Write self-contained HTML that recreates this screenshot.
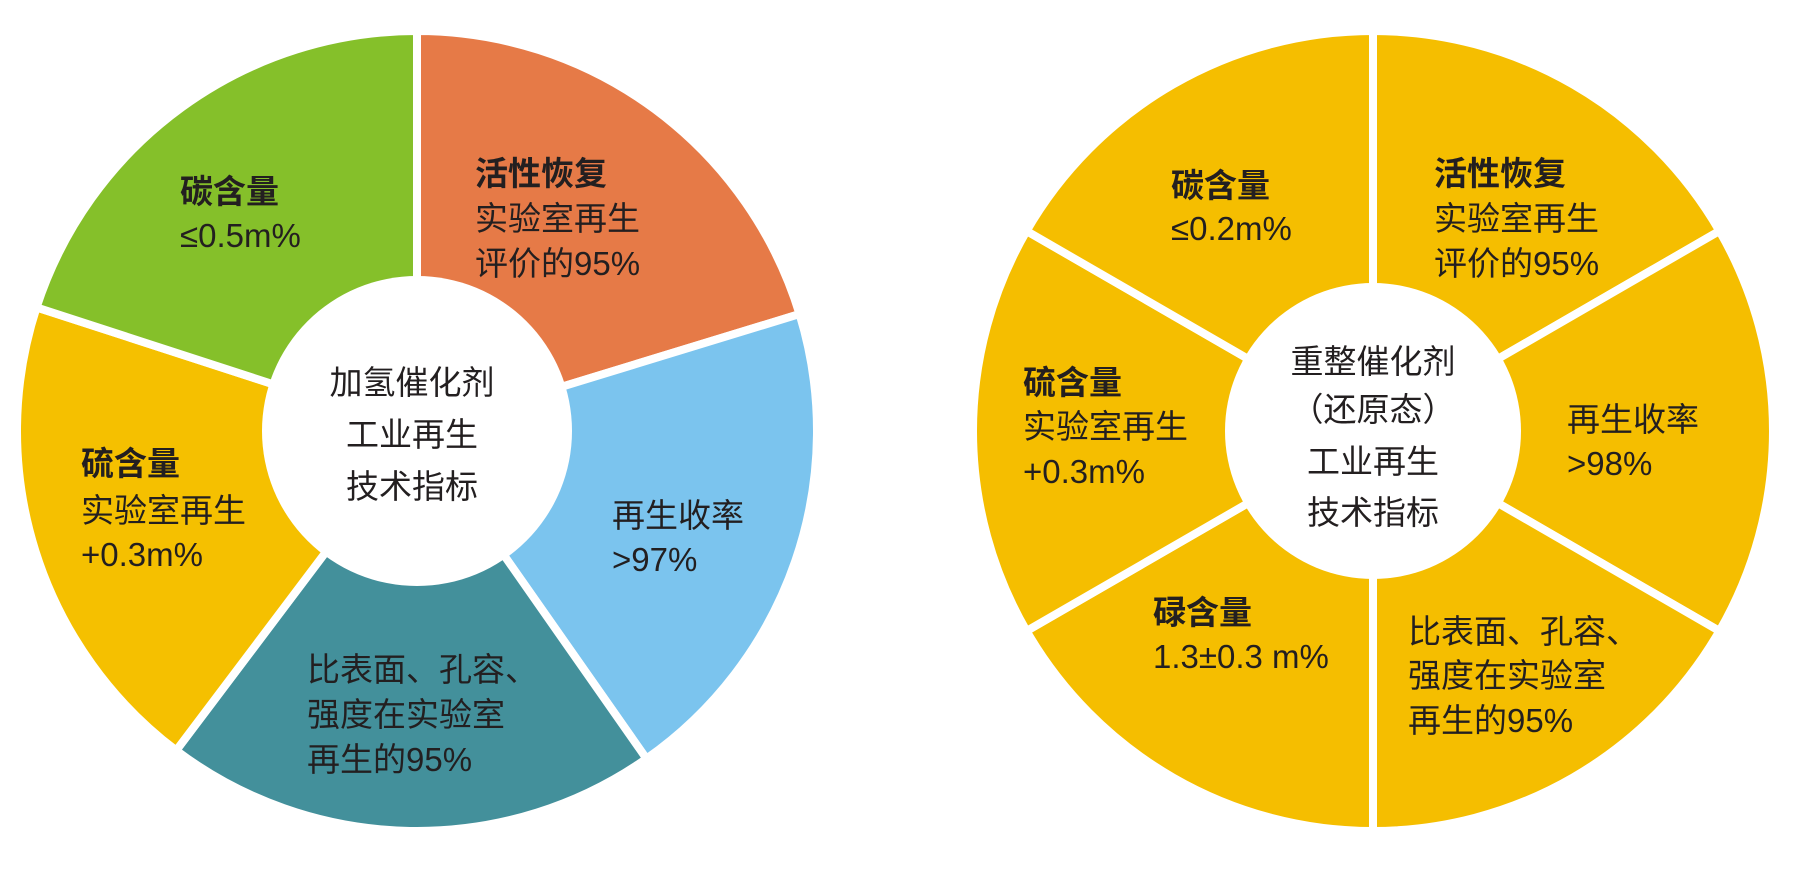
<!DOCTYPE html>
<html><head><meta charset="utf-8"><style>
html,body{margin:0;padding:0;background:#fff}
svg{display:block}
text{font-family:"Liberation Sans","Noto Sans CJK SC",sans-serif;font-size:33px;fill:#231f20}
.b{font-weight:bold}
</style></head><body>
<svg id="s" width="1808" height="877" viewBox="0 0 1808 877">
<g id="g"></g>
<circle cx="417" cy="431" r="155" fill="#fff"/>
<circle cx="1373" cy="431" r="148" fill="#fff"/>
<text class="b" x="180" y="203">碳含量</text>
<text x="180" y="247">≤0.5m%</text>
<text class="b" x="475" y="185">活性恢复</text>
<text x="475" y="230">实验室再生</text>
<text x="475" y="275">评价的95%</text>
<text x="412" y="394" text-anchor="middle">加氢催化剂</text>
<text x="412" y="446" text-anchor="middle">工业再生</text>
<text x="412" y="498" text-anchor="middle">技术指标</text>
<text x="612" y="527">再生收率</text>
<text x="612" y="571">&gt;97%</text>
<text class="b" x="81" y="475">硫含量</text>
<text x="81" y="522">实验室再生</text>
<text x="81" y="566">+0.3m%</text>
<text x="307" y="681">比表面、孔容、</text>
<text x="307" y="726">强度在实验室</text>
<text x="307" y="771">再生的95%</text>
<text class="b" x="1171" y="197">碳含量</text>
<text x="1171" y="240">≤0.2m%</text>
<text class="b" x="1434" y="185">活性恢复</text>
<text x="1434" y="230">实验室再生</text>
<text x="1434" y="275">评价的95%</text>
<text x="1373" y="373" text-anchor="middle">重整催化剂</text>
<text x="1373" y="421" text-anchor="middle">（还原态）</text>
<text x="1373" y="473" text-anchor="middle">工业再生</text>
<text x="1373" y="524" text-anchor="middle">技术指标</text>
<text class="b" x="1023" y="394">硫含量</text>
<text x="1023" y="438">实验室再生</text>
<text x="1023" y="483">+0.3m%</text>
<text x="1567" y="431">再生收率</text>
<text x="1567" y="475">&gt;98%</text>
<text class="b" x="1153" y="624">碌含量</text>
<text x="1153" y="668">1.3±0.3 m%</text>
<text x="1408" y="643">比表面、孔容、</text>
<text x="1408" y="687">强度在实验室</text>
<text x="1408" y="732">再生的95%</text>
</svg>
<script>
var g=document.getElementById('g');
function pie(cx,cy,r,arr){
 arr.forEach(function(a){
  var s=a[0]*Math.PI/180,e=a[1]*Math.PI/180;
  var x1=cx+r*Math.sin(s),y1=cy-r*Math.cos(s),x2=cx+r*Math.sin(e),y2=cy-r*Math.cos(e);
  var la=(a[1]-a[0])>180?1:0;
  var p=document.createElementNS('http://www.w3.org/2000/svg','path');
  p.setAttribute('d','M'+cx+','+cy+'L'+x1+','+y1+'A'+r+','+r+' 0 '+la+' 1 '+x2+','+y2+'Z');
  p.setAttribute('fill',a[2]);p.setAttribute('stroke','#fff');p.setAttribute('stroke-width','8');
  g.appendChild(p);
 });
}
pie(417,431,400,[[0,73,'#e67a47'],[73,145,'#7bc4ee'],[145,217,'#43909b'],[217,288,'#f5c000'],[288,360,'#85c02a']]);
var y='#f5be00';
pie(1373,431,400,[[0,60,y],[60,120,y],[120,180,y],[180,240,y],[240,300,y],[300,360,y]]);
</script>
</body></html>
